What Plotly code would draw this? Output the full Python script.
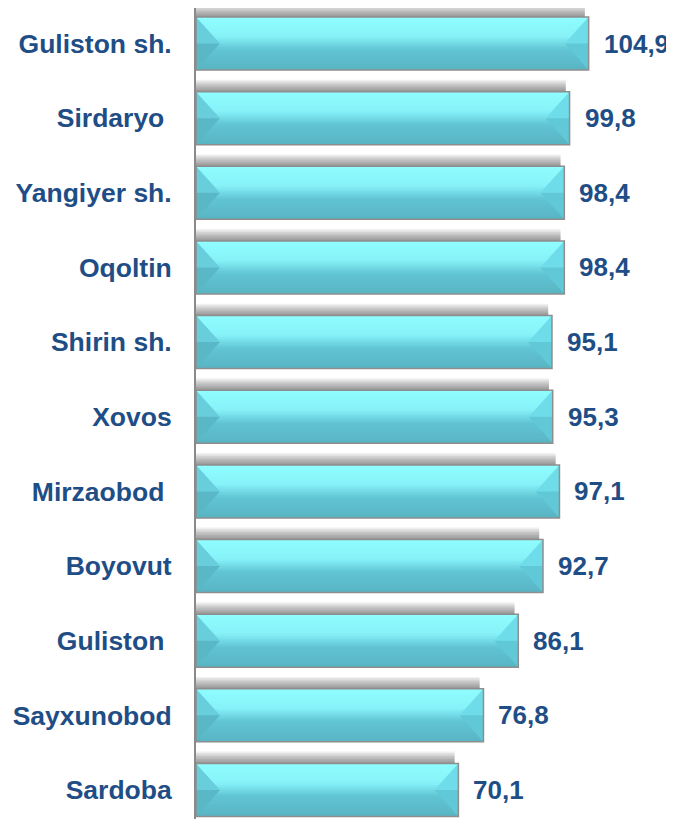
import plotly.graph_objects as go

categories = ["Guliston sh.", "Sirdaryo\u00a0", "Yangiyer sh.", "Oqoltin", "Shirin sh.",
              "Xovos", "Mirzaobod\u00a0", "Boyovut", "Guliston\u00a0", "Sayxunobod", "Sardoba"]
values = [104.9, 99.8, 98.4, 98.4, 95.1, 95.3, 97.1, 92.7, 86.1, 76.8, 70.1]
value_labels = [f"{v:.1f}".replace(".", ",") for v in values]

idx = list(range(len(categories)))
TXT = "#1f4e86"
FONT = "Liberation Sans, Arial, sans-serif"
H = 0.71          # bar thickness (category units)
D = 6.4           # bevel depth (value units)


def hex2rgb(h):
    h = h.lstrip("#")
    return [int(h[i:i + 2], 16) for i in (0, 2, 4)]


stops = [(0.0, "#8ffeff"), (0.36, "#87f3f9"), (0.62, "#61c4d3"), (1.0, "#58b4c3")]


def grad(t):
    for (t0, c0), (t1, c1) in zip(stops[:-1], stops[1:]):
        if t <= t1:
            f = (t - t0) / (t1 - t0)
            a, b = hex2rgb(c0), hex2rgb(c1)
            return "rgb(%d,%d,%d)" % tuple(round(a[i] + (b[i] - a[i]) * f) for i in range(3))
    return stops[-1][1]


fig = go.Figure()

# soft shadow above each bar
m = 8
SH = 0.16
for j in range(m):
    fig.add_bar(y=idx, x=[v - 1.0 for v in values], base=0, orientation="h",
                width=SH * (m - j) / m, offset=-H / 2 - SH * (m - j) / m,
                marker=dict(color="rgba(0,0,0,0.058)", line=dict(width=0)),
                hoverinfo="skip", showlegend=False)

# vertical gradient fill built from overlapping stripes
n = 30
for k in range(n):
    t0 = k / n
    fig.add_bar(y=idx, x=values, base=0, orientation="h",
                width=H * (1 - t0), offset=-H / 2 + H * t0,
                marker=dict(color=grad((k + 0.5) / n), line=dict(width=0)),
                hoverinfo="skip", showlegend=False)


def tri_trace(pts_fn, color):
    xs, ys = [], []
    for i, v in zip(idx, values):
        top, bot = i - H / 2, i + H / 2
        px, py = pts_fn(v, top, i, bot)
        xs += px + [None]
        ys += py + [None]
    return go.Scatter(x=xs, y=ys, mode="lines", fill="toself", fillcolor=color,
                      line=dict(width=0), hoverinfo="skip", showlegend=False)


fig.add_trace(tri_trace(lambda v, t, c, b: ([0, D, 0, 0], [t, c, c, t]), "#68cedc"))
fig.add_trace(tri_trace(lambda v, t, c, b: ([0, D, 0, 0], [c, c, b, c]), "#5ab7c6"))
fig.add_trace(tri_trace(lambda v, t, c, b: ([v, v - D, v, v], [t, c, c, t]), "#6fdce9"))
fig.add_trace(tri_trace(lambda v, t, c, b: ([v, v - D, v, v], [c, c, b, c]), "#60c8d6"))

# bar outlines
ox, oy = [], []
for i, v in zip(idx, values):
    top, bot = i - H / 2, i + H / 2
    ox += [0, v, v, 0, 0, None]
    oy += [top, top, bot, bot, top, None]
fig.add_trace(go.Scatter(x=ox, y=oy, mode="lines", line=dict(color="#8e8e8e", width=1.5),
                         hoverinfo="skip", showlegend=False))

for i, v, lab in zip(idx, values, value_labels):
    fig.add_annotation(x=v, y=i, text=lab, showarrow=False, xanchor="left", yanchor="middle",
                       xshift=13, font=dict(family=FONT, size=26, color=TXT, weight="bold"))

fig.update_layout(
    width=666, height=811,
    margin=dict(l=188, r=0, t=0, b=0, autoexpand=False),
    paper_bgcolor="white", plot_bgcolor="white",
    barmode="overlay",
    showlegend=False,
    xaxis=dict(range=[0, 127.7], showgrid=False, zeroline=False, showticklabels=False,
               showline=False, fixedrange=True, automargin=False),
    yaxis=dict(range=[10.389, -0.476], tickvals=idx, ticktext=categories, showgrid=False,
               zeroline=False, showline=True, linecolor="#8a8a8a", linewidth=2,
               ticks="", ticklabelstandoff=17, automargin=False,
               tickfont=dict(family=FONT, size=26.5, color=TXT, weight="bold")),
)

fig.write_html("out.html", post_script="document.body.style.overflow='hidden';")
